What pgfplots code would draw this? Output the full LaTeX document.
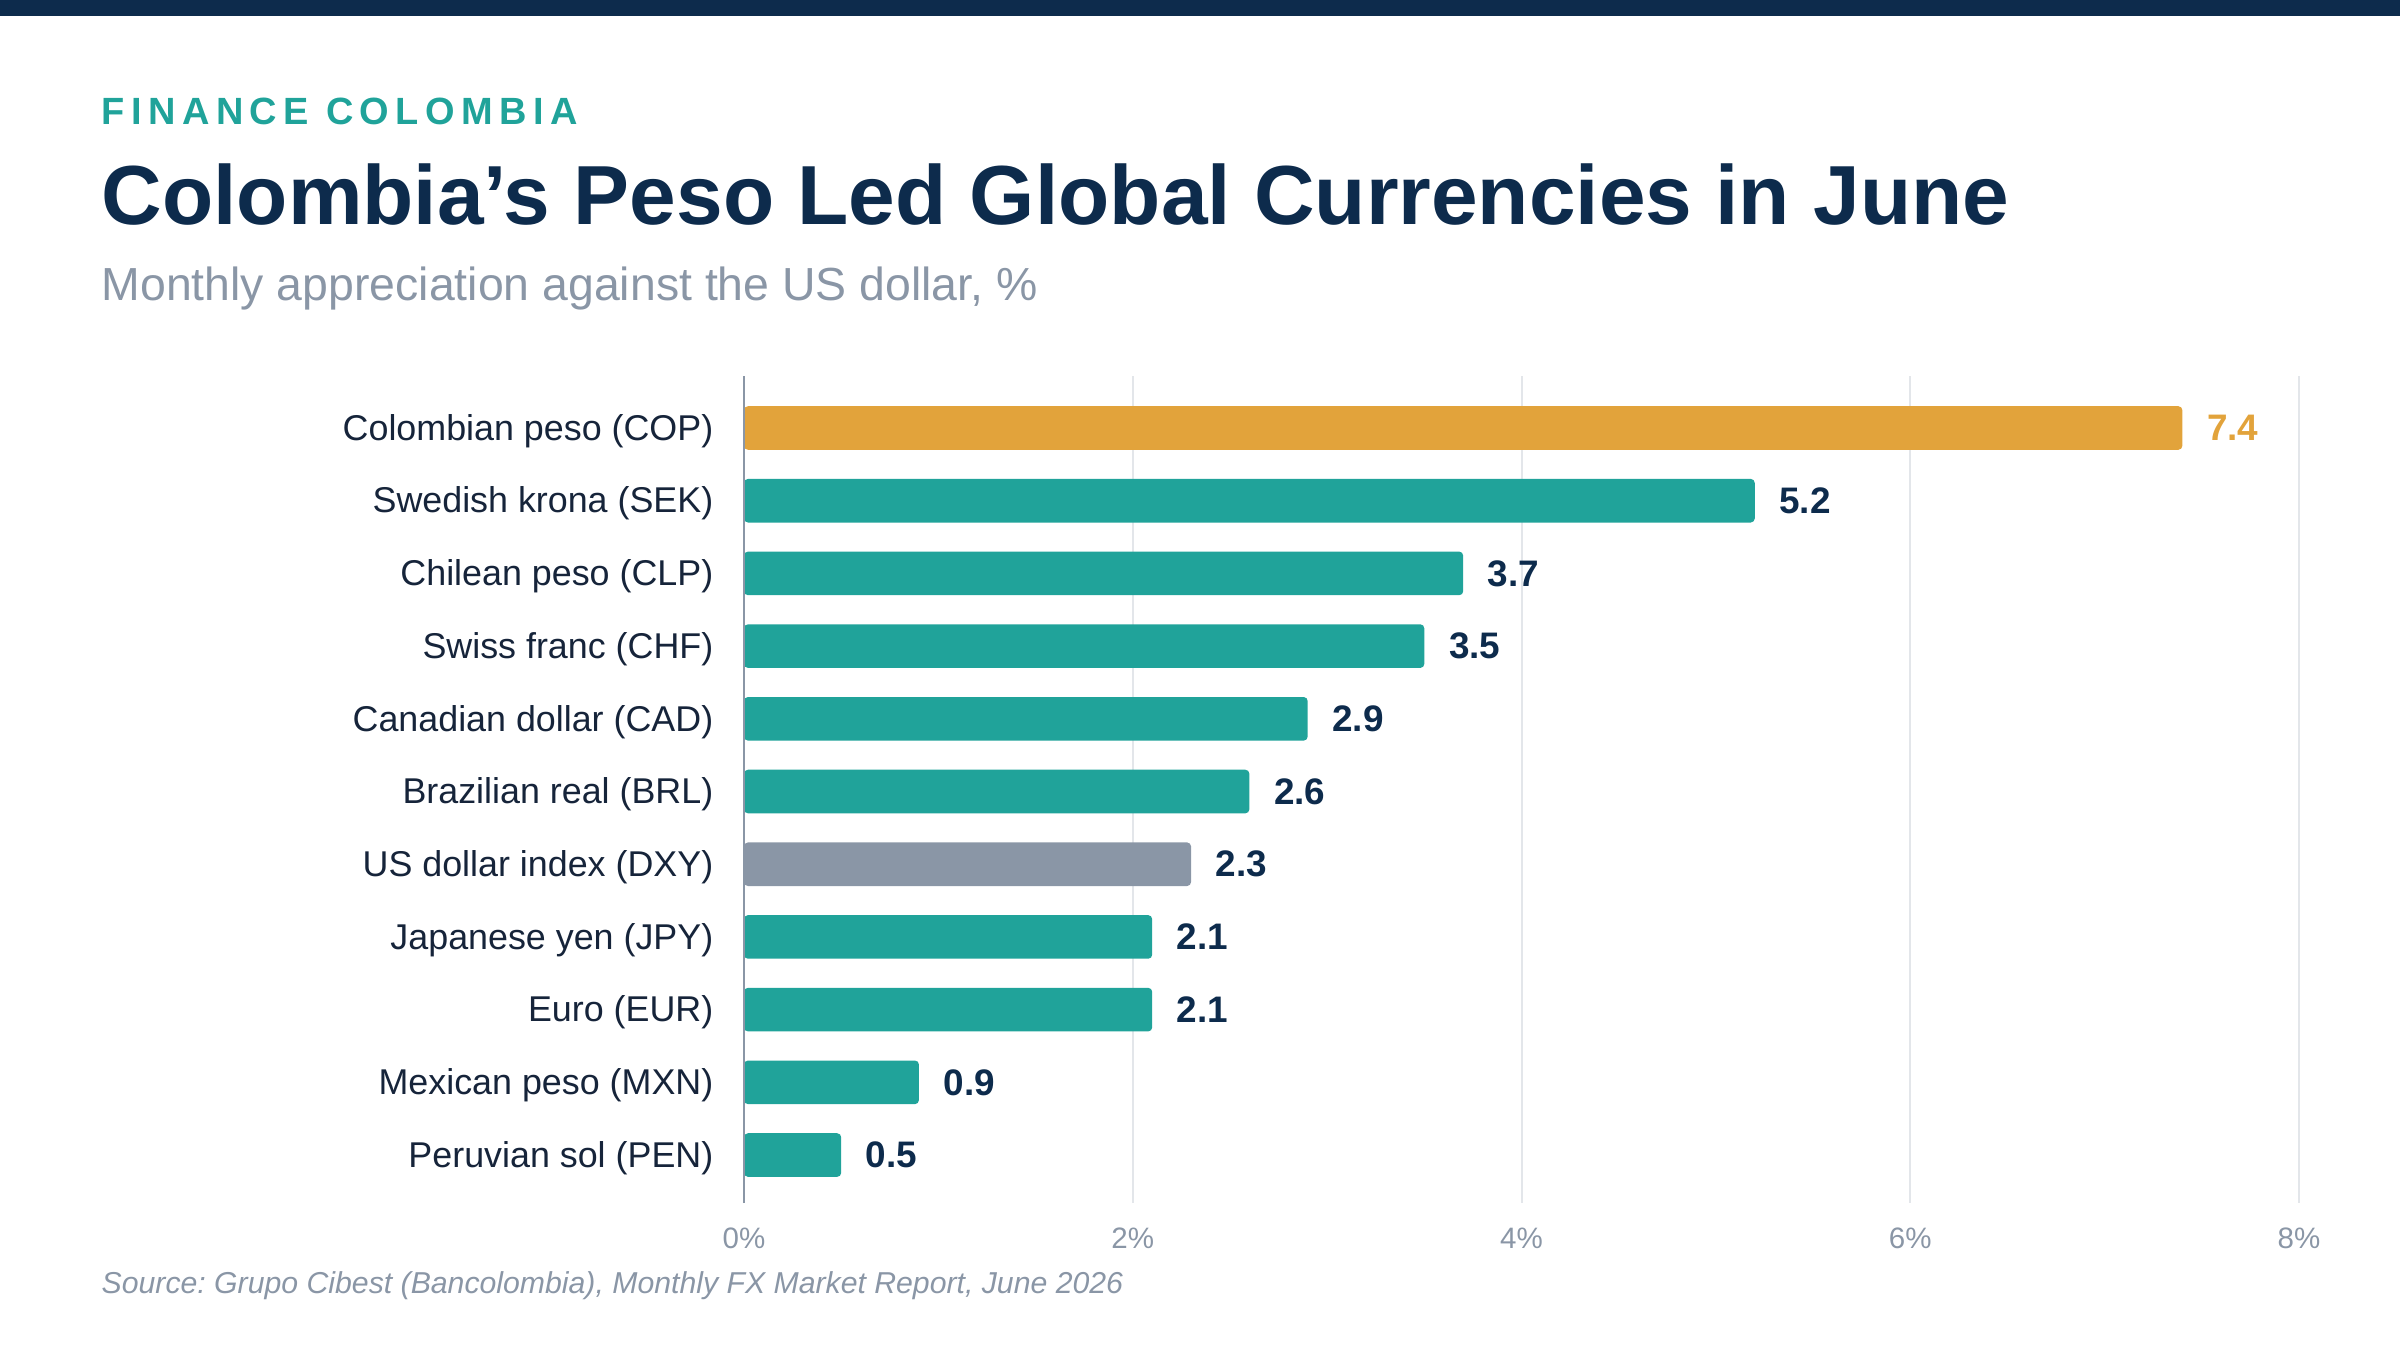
\documentclass[border=0pt]{standalone}
\usepackage{fontspec}
\setmainfont{Liberation Sans}
\usepackage{pgfplots}
\pgfplotsset{compat=1.18}
\frenchspacing
\definecolor{cnavy}{HTML}{0D2B4C}
\definecolor{cteal}{HTML}{20A39A}
\definecolor{corange}{HTML}{E2A33B}
\definecolor{cgray}{HTML}{8A96A6}
\definecolor{cgrid}{HTML}{E3E6EA}
\definecolor{clabel}{HTML}{16243A}
\begin{document}
\begin{tikzpicture}
\path[use as bounding box] (0,0) rectangle (24,-13.5);
\fill[cnavy] (0,0) rectangle (24,-0.16);
\node[anchor=base west, inner sep=0, text=cteal, font=\fontsize{10.8}{12}\selectfont\bfseries\addfontfeature{LetterSpace=17}] at (1.01,-1.24) {FINANCE COLOMBIA};
\node[anchor=base west, inner sep=0, text=cnavy, font=\fontsize{23.86}{28}\selectfont\bfseries] at (1.01,-2.24) {Colombia’s Peso Led Global Currencies in June};
\node[anchor=base west, inner sep=0, text=cgray, font=\fontsize{13.2}{15}\selectfont] at (1.01,-3.00) {Monthly appreciation against the US dollar, \%};
\node[anchor=base west, inner sep=0, text=cgray, font=\fontsize{8.6}{10}\selectfont\itshape] at (1.01,-12.93) {Source: Grupo Cibest (Bancolombia), Monthly FX Market Report, June 2026};
\begin{axis}[
  at={(7.44cm,-12.03cm)}, anchor=south west,
  width=15.55cm, height=8.27cm, scale only axis,
  xmin=0, xmax=8, ymin=-0.66, ymax=10.715,
  xbar, bar width=0.6, bar shift=0pt,
  axis line style={draw=none},
  major tick length=0pt,
  xtick={0,2,4,6,8}, xticklabels={0\%,2\%,4\%,6\%,8\%},
  ytick={0,...,10},
  yticklabels={Peruvian sol (PEN),Mexican peso (MXN),Euro (EUR),Japanese yen (JPY),US dollar index (DXY),Brazilian real (BRL),Canadian dollar (CAD),Swiss franc (CHF),Chilean peso (CLP),Swedish krona (SEK),Colombian peso (COP)},
  xmajorgrids, grid style={draw=cgrid, line width=0.02cm},
  /pgf/number format/assume math mode=true,
  xticklabel style={font=\fontsize{8.4}{10}\selectfont, text=cgray, inner sep=0, anchor=north, yshift=-0.24cm},
  yticklabel style={font=\fontsize{10.2}{12}\selectfont, text=clabel, inner sep=0, anchor=east, xshift=-0.30cm, yshift=-0.03cm},
  point meta=x,
  nodes near coords={\pgfmathprintnumber[fixed,fixed zerofill,precision=1]{\pgfplotspointmeta}},
  nodes near coords style={anchor=west, inner sep=0, xshift=0.24cm, font=\fontsize{10.5}{12}\selectfont\bfseries, text=cnavy},
  clip=false,
]
\addplot[fill=cteal, draw=none, rounded corners=0.04cm] coordinates {(5.2,9) (3.7,8) (3.5,7) (2.9,6) (2.6,5) (2.1,3) (2.1,2) (0.9,1) (0.5,0)};
\addplot[fill=corange, draw=none, rounded corners=0.04cm, nodes near coords style={text=corange}] coordinates {(7.4,10)};
\addplot[fill=cgray, draw=none, rounded corners=0.04cm] coordinates {(2.3,4)};
\draw[cgray, line width=0.025cm] (rel axis cs:0,0) -- (rel axis cs:0,1);
\end{axis}
\end{tikzpicture}
\end{document}
